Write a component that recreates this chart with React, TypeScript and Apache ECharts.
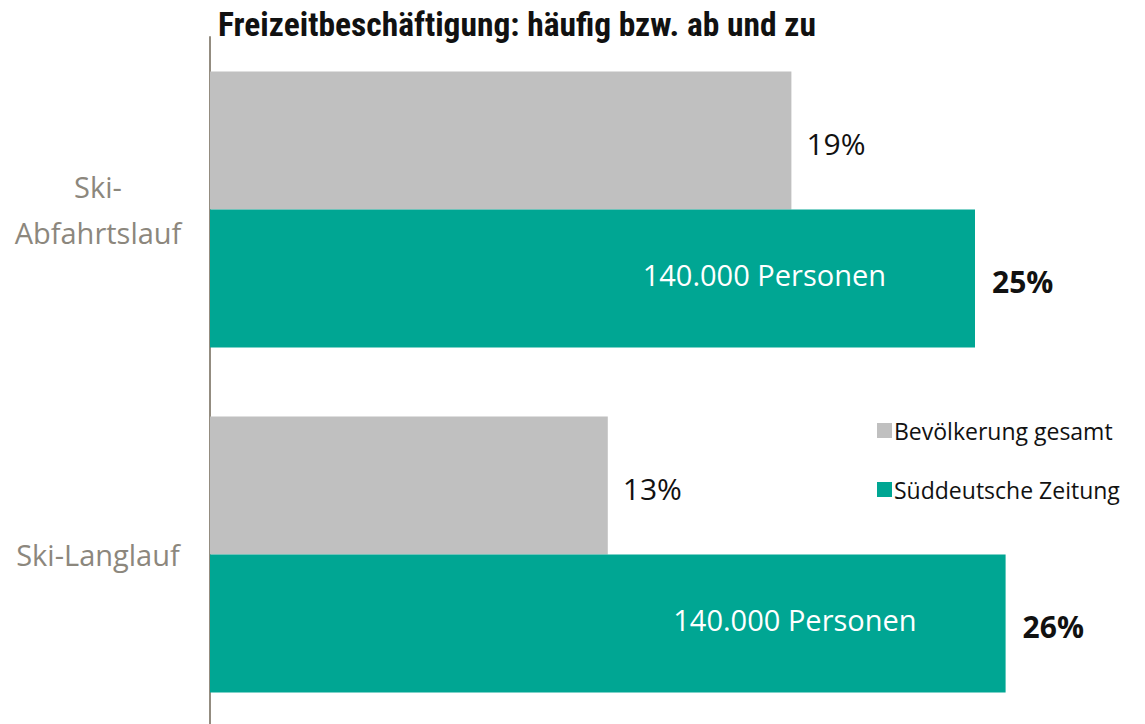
import React, { useEffect, useRef } from "react";
import * as echarts from "echarts";

const categories = ["Ski-\nAbfahrtslauf", "Ski-Langlauf"];
const seriesNames = ["Bevölkerung gesamt", "Süddeutsche Zeitung"];
const bevoelkerung = [19, 13];
const sz = [25, 26];
const personenLabels = ["140.000 Personen", "140.000 Personen"];
const titleText = "Freizeitbeschäftigung: häufig bzw. ab und zu";

const FONT = "'Open Sans', 'Noto Sans', sans-serif";

export default function App() {
  const ref = useRef<HTMLDivElement>(null);
  useEffect(() => {
    document.body.style.margin = "0";
    const chart = echarts.init(ref.current!, null, { renderer: "svg" });
    const cats = [...categories].reverse();
    const g = [...bevoelkerung].reverse();
    const t = [...sz].reverse();
    const pl = [...personenLabels].reverse();
    chart.setOption({
      animation: false,
      backgroundColor: "#ffffff",
      title: {
        text: titleText,
        left: 213,
        top: 2,
        textStyle: {
          fontFamily: "'Liberation Sans Narrow', 'Roboto Condensed', sans-serif",
          fontWeight: "bold",
          fontSize: 33.5,
          color: "#111111",
        },
      },
      legend: {
        orient: "vertical",
        left: 872,
        top: 414,
        itemWidth: 15,
        itemHeight: 15,
        itemGap: 36,
        icon: "rect",
        data: seriesNames,
        textStyle: { fontFamily: FONT, fontSize: 23, color: "#111111", padding: [0, 0, 0, -3] },
      },
      grid: { left: 210, right: 17, top: 37, bottom: 5 },
      xAxis: [{ type: "value", min: 0, max: 30, show: false }],
      yAxis: [
        {
          type: "category",
          data: cats,
          axisLine: { show: true, lineStyle: { color: "#938c80", width: 2 } },
          axisTick: { show: false },
          axisLabel: {
            fontFamily: FONT,
            fontSize: 29,
            color: "#8c877d",
            align: "center",
            margin: 112,
            lineHeight: 46,
            padding: [6, 0, 0, 0],
          },
        },
        { type: "category", data: cats, show: false, position: "left" },
      ],
      series: [
        {
          name: seriesNames[0],
          type: "bar",
          yAxisIndex: 0,
          data: g,
          barCategoryGap: "20%",
          barGap: "0%",
          itemStyle: { color: "#c0c0c0" },
          label: {
            show: true,
            position: "right",
            distance: 15,
            offset: [0, 3],
            formatter: "{c}%",
            fontFamily: FONT,
            fontSize: 30,
            color: "#111111",
          },
          z: 2,
        },
        {
          name: seriesNames[1],
          type: "bar",
          yAxisIndex: 0,
          data: t,
          barCategoryGap: "20%",
          barGap: "0%",
          itemStyle: { color: "#00a693" },
          label: {
            show: true,
            position: "right",
            distance: 17,
            offset: [0, 3],
            formatter: "{c}%",
            fontFamily: FONT,
            fontSize: 30,
            fontWeight: "bold",
            color: "#111111",
          },
          z: 2,
        },
        {
          type: "bar",
          yAxisIndex: 1,
          data: g,
          barCategoryGap: "20%",
          barGap: "0%",
          itemStyle: { color: "rgba(0,0,0,0)" },
          silent: true,
          z: 1,
        },
        {
          type: "bar",
          yAxisIndex: 1,
          data: t.map((v, i) => ({ value: v, personen: pl[i] })),
          barCategoryGap: "20%",
          barGap: "0%",
          itemStyle: { color: "rgba(0,0,0,0)" },
          silent: true,
          label: {
            show: true,
            position: "insideRight",
            distance: 89,
            offset: [0, -4],
            formatter: (p: any) => p.data.personen,
            fontFamily: FONT,
            fontSize: 29,
            color: "#ffffff",
          },
          z: 3,
        },
      ],
    });
    return () => chart.dispose();
  }, []);
  return (
    <div style={{ width: 1145, height: 724, overflow: "hidden" }}>
      <div ref={ref} style={{ width: 1145, height: 732 }} />
    </div>
  );
}
